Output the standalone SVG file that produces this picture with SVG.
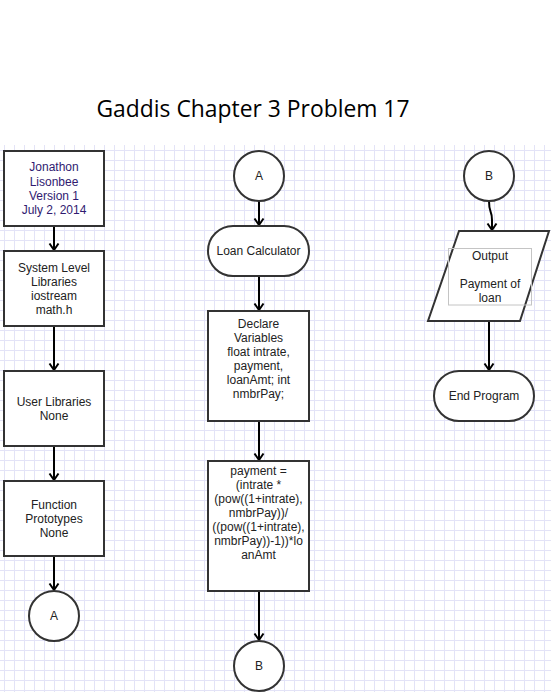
<svg xmlns="http://www.w3.org/2000/svg" width="551" height="692" viewBox="0 0 551 692">
<defs>
<pattern id="grid" patternUnits="userSpaceOnUse" x="4" y="0" width="10" height="10">
<path d="M0.5,0 V10 M0,0.5 H10" stroke="#e3e3f7" stroke-width="1" fill="none"/>
</pattern>
<marker id="arr" markerUnits="userSpaceOnUse" viewBox="-8 -6 10 12" refX="0" refY="0" markerWidth="10" markerHeight="12" orient="auto">
<path d="M-6.5,-4.5 L0,0 L-6.5,4.5" fill="none" stroke="#000" stroke-width="2"/>
</marker>
</defs>
<style>
.n{fill:#fff;stroke:#333;stroke-width:2}
.t{font-family:"Liberation Sans",Arial,sans-serif;font-size:12px;fill:#222;text-anchor:middle}
.p{fill:#301a70}
.c{fill:none;stroke:#000;stroke-width:2;marker-end:url(#arr)}
</style>
<rect x="0" y="0" width="551" height="692" fill="#fff"/>
<rect x="0" y="145" width="551" height="547" fill="url(#grid)"/>
<text x="253" y="117" font-family="'Open Sans','Liberation Sans',sans-serif" font-size="23" fill="#000" text-anchor="middle" textLength="313" lengthAdjust="spacingAndGlyphs">Gaddis Chapter 3 Problem 17</text>

<g id="connectors">
<path class="c" d="M54,226 V250"/>
<path class="c" d="M54,326 V370"/>
<path class="c" d="M54,446 V480"/>
<path class="c" d="M54,556 V590"/>
<path class="c" d="M259,201 V225"/>
<path class="c" d="M259,276 V310"/>
<path class="c" d="M259,421 V460"/>
<path class="c" d="M259,591 V640"/>
<path class="c" d="M489,201 C489,214 492,210 492,220 V230"/>
<path class="c" d="M489,321 V370"/>
</g>

<g id="start">
<rect class="n" x="4" y="151" width="100" height="75"/>
<text class="t p" x="54" y="171">Jonathon</text>
<text class="t p" x="54" y="186">Lisonbee</text>
<text class="t p" x="54" y="200">Version 1</text>
<text class="t p" x="54" y="214">July 2, 2014</text>
</g>
<g id="syslibs">
<rect class="n" x="4" y="251" width="100" height="75"/>
<text class="t" x="54" y="272">System Level</text>
<text class="t" x="54" y="286">Libraries</text>
<text class="t" x="54" y="300">iostream</text>
<text class="t" x="54" y="314">math.h</text>
</g>
<g id="userlibs">
<rect class="n" x="4" y="371" width="100" height="75"/>
<text class="t" x="54" y="406">User Libraries</text>
<text class="t" x="54" y="420">None</text>
</g>
<g id="protos">
<rect class="n" x="4" y="481" width="100" height="75"/>
<text class="t" x="54" y="509">Function</text>
<text class="t" x="54" y="523">Prototypes</text>
<text class="t" x="54" y="537">None</text>
</g>
<g id="connA1">
<circle class="n" cx="54" cy="616" r="25"/>
<text class="t" x="54" y="620">A</text>
</g>

<g id="connA2">
<circle class="n" cx="259" cy="176" r="25"/>
<text class="t" x="259" y="180">A</text>
</g>
<g id="loancalc">
<rect class="n" x="208" y="226" width="101" height="50" rx="25" ry="25"/>
<text class="t" x="258.5" y="255">Loan Calculator</text>
</g>
<g id="declare">
<rect class="n" x="208" y="311" width="101" height="110"/>
<text class="t" x="258.5" y="328">Declare</text>
<text class="t" x="258.5" y="342">Variables</text>
<text class="t" x="258.5" y="356">float intrate,</text>
<text class="t" x="258.5" y="370">payment,</text>
<text class="t" x="258.5" y="384">loanAmt; int</text>
<text class="t" x="258.5" y="398">nmbrPay;</text>
</g>
<g id="calc">
<rect class="n" x="208" y="461" width="101" height="130"/>
<text class="t" x="258.5" y="475">payment =</text>
<text class="t" x="258.5" y="489">(intrate *</text>
<text class="t" x="258.5" y="503">(pow((1+intrate),</text>
<text class="t" x="258.5" y="517">nmbrPay))/</text>
<text class="t" x="258.5" y="531">((pow((1+intrate),</text>
<text class="t" x="258.5" y="545">nmbrPay))-1))*lo</text>
<text class="t" x="258.5" y="559">anAmt</text>
</g>
<g id="connB1">
<circle class="n" cx="259" cy="666" r="25"/>
<text class="t" x="259" y="670">B</text>
</g>

<g id="connB2">
<circle class="n" cx="489" cy="176" r="25"/>
<text class="t" x="489" y="180">B</text>
</g>
<g id="output">
<polygon class="n" points="459,231 549,231 520,321 428,321"/>
<rect x="448.5" y="248.5" width="83" height="56.5" fill="none" stroke="#c4c4c4" stroke-width="1"/>
<text class="t" x="490" y="260">Output</text>
<text class="t" x="490" y="288">Payment of</text>
<text class="t" x="490" y="302">loan</text>
</g>
<g id="end">
<rect class="n" x="434" y="371" width="100" height="50" rx="25" ry="25"/>
<text class="t" x="484" y="400">End Program</text>
</g>
</svg>
